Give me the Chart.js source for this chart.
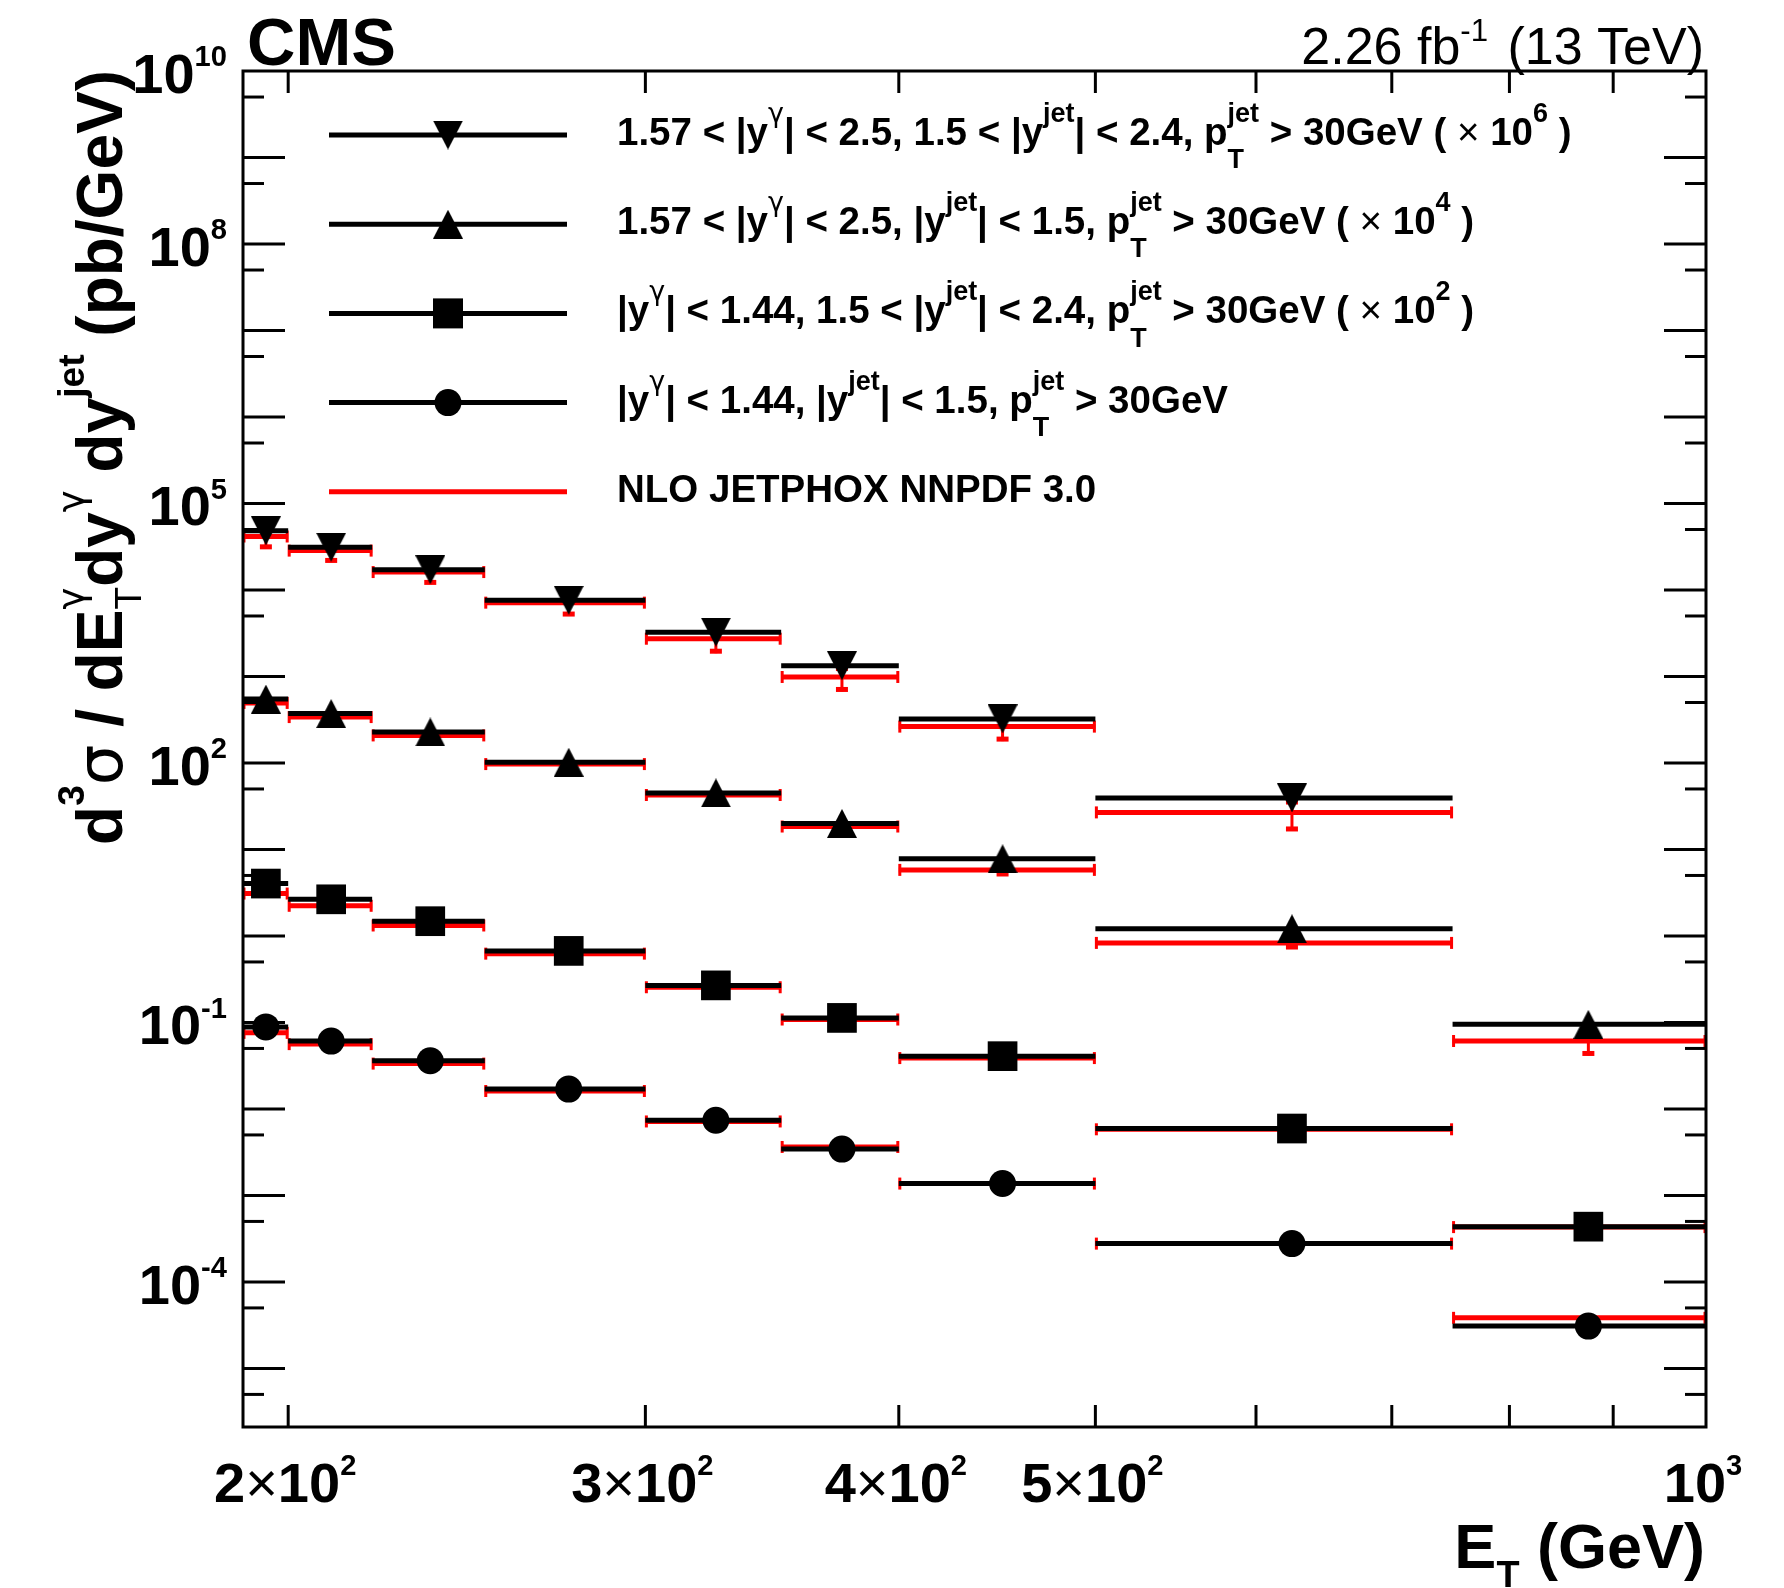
<!DOCTYPE html>
<html lang="en">
<head>
<meta charset="UTF-8">
<title>Isolated photon + jet cross section</title>
<style>
  html, body { margin: 0; padding: 0; background: #fff; }
  #wrap { width: 1784px; height: 1588px; }
</style>
</head>
<body>
<div id="wrap"><canvas id="xsec" width="1784" height="1588"></canvas></div>
<script src="https://cdn.jsdelivr.net/npm/chart.js"></script>
<script>
// E_T bins (GeV)
const binLo  = [190, 200, 220, 250, 300, 350, 400, 500, 750];
const binHi  = [200, 220, 250, 300, 350, 400, 500, 750, 1000];
const binMid = [195, 210, 235, 275, 325, 375, 450, 625, 875];

// measured values, already multiplied by the legend factor (pb/GeV)
const fwdFwdData = [48300, 31200, 17100, 7590, 3250, 1330, 323, 39.4, null];   // x 10^6
const fwdCenData = [547, 372, 228, 102, 45, 20, 7.8, 1.21, 0.095];             // x 10^4
const cenFwdData = [4.03, 2.65, 1.48, 0.671, 0.268, 0.1127, 0.0407, 0.00593, 0.000435]; // x 10^2
const cenCenData = [0.0887, 0.0608, 0.0361, 0.01694, 0.00738, 0.00343, 0.00137, 0.000277, 0.0000308];

// NLO JETPHOX predictions, same factors
const fwdFwdTheory = [41500, 28500, 16100, 7130, 2730, 986, 263, 26.8, null];
const fwdCenTheory = [494, 339, 208, 97, 42.6, 18.4, 5.8, 0.83, 0.061];
const cenFwdTheory = [3.09, 2.23, 1.32, 0.624, 0.255, 0.108, 0.0387, 0.00581, 0.00043];
const cenCenTheory = [0.0757, 0.0561, 0.0334, 0.0161, 0.00716, 0.00363, 0.00137, 0.000277, 0.0000384];

// relative theory uncertainty
const fwdFwdTheoryErr = [0.28, 0.27, 0.28, 0.30, 0.32, 0.32, 0.32, 0.39, 0];
const fwdCenTheoryErr = [0.10, 0.10, 0.10, 0.10, 0.10, 0.12, 0.15, 0.15, 0.32];
const cenFwdTheoryErr = [0.08, 0.08, 0.08, 0.08, 0.08, 0.08, 0.08, 0.08, 0.08];
const cenCenTheoryErr = [0.08, 0.08, 0.08, 0.08, 0.08, 0.08, 0.08, 0.08, 0.08];

// axis ticks
const xTickValues = [200, 300, 400, 500, 600, 700, 800, 900];
const xLabelValues = [200, 300, 400, 500, 1000];
const xLabelMant = ['2', '3', '4', '5', ''];
const xLabelExp = ['2', '2', '2', '2', '3'];
const yLabelExp = [10, 8, 5, 2, -1, -4];

const SANS = '"Liberation Sans", Arial, Helvetica, sans-serif';
function fnt(size, weight, family) { return (weight || 'bold') + ' ' + size + 'px ' + (family || SANS); }

// text with super/subscripts: parts are strings, {t, w, f} or {sup, sub}
function layoutRich(ctx, parts, size, opt) {
  const items = [];
  let w = 0;
  parts.forEach(p => {
    if (typeof p === 'string' || p.t !== undefined) {
      const t = typeof p === 'string' ? p : p.t;
      const f = fnt(size, p.w || opt.weight, p.f);
      ctx.font = f;
      items.push({ x: w, dy: 0, text: t, font: f });
      w += ctx.measureText(t).width;
    } else {
      let adv = 0;
      if (p.sup) {
        const f = fnt(size * opt.scale, p.w || opt.weight, p.supFont);
        ctx.font = f;
        items.push({ x: w, dy: -size * opt.up, text: p.sup, font: f });
        adv = Math.max(adv, ctx.measureText(p.sup).width);
      }
      if (p.sub) {
        const f = fnt(size * opt.scale, p.w || opt.weight);
        ctx.font = f;
        items.push({ x: w, dy: size * opt.down, text: p.sub, font: f });
        adv = Math.max(adv, ctx.measureText(p.sub).width);
      }
      w += adv + (opt.gap || 0);
    }
  });
  return { items, width: w };
}

function drawRich(ctx, parts, x, y, size, opt) {
  const lay = layoutRich(ctx, parts, size, opt);
  let x0 = x;
  if (opt.align === 'right') x0 = x - lay.width;
  if (opt.align === 'center') x0 = x - lay.width / 2;
  ctx.textAlign = 'left';
  ctx.textBaseline = 'alphabetic';
  ctx.fillStyle = '#000';
  lay.items.forEach(it => {
    ctx.font = it.font;
    ctx.fillText(it.text, x0 + it.x, y + it.dy);
  });
}

// ROOT style triangles, centred on their bounding box
function triangleMarker(down) {
  const c = document.createElement('canvas');
  c.width = 30; c.height = 29;
  const g = c.getContext('2d');
  g.fillStyle = '#000';
  g.beginPath();
  if (down) { g.moveTo(0, 0); g.lineTo(30, 0); g.lineTo(15, 29); }
  else { g.moveTo(15, 0); g.lineTo(30, 29); g.lineTo(0, 29); }
  g.closePath();
  g.fill();
  return c;
}
const triDown = triangleMarker(true);
const triUp = triangleMarker(false);

function pts(values) {
  return values.map((v, i) => ({ x: binMid[i], y: v, i: i })).filter(p => p.y != null);
}

function theorySet(values, err) {
  return { data: pts(values), relErr: err, lineColor: '#ff0000', caps: true,
           pointRadius: 0, showLine: false };
}
function dataSet(values, style, radius) {
  return { data: pts(values), lineColor: '#000000', pointStyle: style, pointRadius: radius,
           backgroundColor: '#000', borderColor: '#000', pointBorderWidth: 0, showLine: false };
}

const datasets = [
  theorySet(fwdFwdTheory, fwdFwdTheoryErr),
  theorySet(fwdCenTheory, fwdCenTheoryErr),
  theorySet(cenFwdTheory, cenFwdTheoryErr),
  theorySet(cenCenTheory, cenCenTheoryErr),
  dataSet(fwdFwdData, triDown, 15),
  dataSet(fwdCenData, triUp, 15),
  dataSet(cenFwdData, 'rect', 21),
  dataSet(cenCenData, 'circle', 13.5)
];

// horizontal bin bars and vertical error bars
const binBars = {
  id: 'binBars',
  beforeDatasetsDraw(chart) {
    const { ctx, scales: { x, y } } = chart;
    ctx.save();
    ctx.lineWidth = 5;
    ctx.lineCap = 'butt';
    const seg = (x1, y1, x2, y2) => { ctx.beginPath(); ctx.moveTo(x1, y1); ctx.lineTo(x2, y2); ctx.stroke(); };
    chart.data.datasets.forEach(ds => {
      ctx.strokeStyle = ds.lineColor;
      ds.data.forEach(p => {
        const yy = y.getPixelForValue(p.y);
        const xl = x.getPixelForValue(binLo[p.i]);
        const xr = x.getPixelForValue(binHi[p.i]);
        seg(xl, yy, xr, yy);
        if (ds.caps) {
          ctx.lineWidth = 3;
          seg(xl + 1, yy - 6, xl + 1, yy + 6);
          seg(xr - 1, yy - 6, xr - 1, yy + 6);
          ctx.lineWidth = 5;
        }
        if (ds.relErr && ds.relErr[p.i] > 0) {
          const xc = x.getPixelForValue(p.x);
          const lo = y.getPixelForValue(p.y * (1 - ds.relErr[p.i]));
          const hi = y.getPixelForValue(p.y * (1 + ds.relErr[p.i]));
          ctx.lineWidth = 3;
          seg(xc, lo, xc, hi);
          ctx.lineWidth = 5;
          seg(xc - 6, lo - 2, xc + 6, lo - 2);
          seg(xc - 6, hi + 2, xc + 6, hi + 2);
        }
      });
    });
    ctx.restore();
  }
};

const GAMMA = { sup: '\u03b3', supFont: '"DejaVu Sans", sans-serif', w: 'normal' };

// ROOT-like frame, inward ticks, labels, titles and legend
const frame = {
  id: 'frame',
  afterDraw(chart) {
    const { ctx, chartArea: a, scales: { x, y } } = chart;
    ctx.save();
    ctx.strokeStyle = '#000';
    ctx.lineWidth = 3;
    ctx.strokeRect(a.left, a.top, a.right - a.left, a.bottom - a.top);
    const seg = (x1, y1, x2, y2) => { ctx.beginPath(); ctx.moveTo(x1, y1); ctx.lineTo(x2, y2); ctx.stroke(); };

    // y ticks: long at each decade, short at 5 x 10^n
    ctx.lineWidth = 3;
    for (let e = -6; e <= 10; e++) {
      [[Math.pow(10, e), 42], [5 * Math.pow(10, e), 21]].forEach(([v, len]) => {
        if (v <= y.min || v >= y.max) return;
        const py = y.getPixelForValue(v);
        seg(a.left, py, a.left + len, py);
        seg(a.right, py, a.right - len, py);
      });
    }
    xTickValues.forEach(v => {
      const px = x.getPixelForValue(v);
      seg(px, a.bottom, px, a.bottom - 22);
      seg(px, a.top, px, a.top + 22);
    });

    // tick labels
    const tickOpt = { weight: 'bold', scale: 0.52, up: 0.48, down: 0 };
    yLabelExp.forEach(e => {
      const py = y.getPixelForValue(Math.pow(10, e));
      drawRich(ctx, ['10', { sup: String(e) }], 227, py + 22, 56, Object.assign({ align: 'right' }, tickOpt));
    });
    xLabelValues.forEach((v, i) => {
      const px = x.getPixelForValue(v);
      const parts = xLabelMant[i] ? [xLabelMant[i], { t: '\u00d7', w: 'normal' }, '10', { sup: xLabelExp[i] }]
                                  : ['10', { sup: xLabelExp[i] }];
      drawRich(ctx, parts, px - 3, 1502, 56, Object.assign({ align: 'center' }, tickOpt));
    });

    // axis titles
    drawRich(ctx, ['E', { sub: 'T' }, ' (GeV)'], 1705, 1568, 63,
      { weight: 'bold', scale: 0.6, up: 0.5, down: 0.3, align: 'right' });
    ctx.save();
    ctx.translate(122, 70);
    ctx.rotate(-Math.PI / 2);
    drawRich(ctx, ['d', { sup: '3' }, { t: '\u03c3', w: 'normal', f: '"DejaVu Sans", sans-serif' }, ' / dE',
      { sup: '\u03b3', supFont: '"DejaVu Sans", sans-serif', w: 'normal', sub: 'T' },
      'dy', GAMMA, ' dy', { sup: 'jet' }, ' (pb/GeV)'], 0, 0, 64,
      { weight: 'bold', scale: 0.58, up: 0.6, down: 0.3, align: 'right' });
    ctx.restore();

    // header
    ctx.font = fnt(67, 'bold');
    ctx.fillStyle = '#000';
    ctx.textAlign = 'left';
    ctx.fillText('CMS', 247, 65);
    drawRich(ctx, ['2.26 fb', { sup: '-1' }, ' (13 TeV)'], 1704, 64, 52,
      { weight: 'normal', scale: 0.6, up: 0.45, down: 0, align: 'right', gap: 5 });

    // legend
    const legOpt = { weight: 'bold', scale: 0.7, up: 0.6, down: 0.6 };
    const times = { t: '\u00d7', w: 'normal' };
    const entries = [
      { marker: triDown, text: ['1.57 < |y', GAMMA, '| < 2.5, 1.5 < |y', { sup: 'jet' }, '| < 2.4, p',
        { sup: 'jet', sub: 'T' }, ' > 30GeV ( ', times, ' 10', { sup: '6' }, ' )'] },
      { marker: triUp, text: ['1.57 < |y', GAMMA, '| < 2.5, |y', { sup: 'jet' }, '| < 1.5, p',
        { sup: 'jet', sub: 'T' }, ' > 30GeV ( ', times, ' 10', { sup: '4' }, ' )'] },
      { marker: 'rect', text: ['|y', GAMMA, '| < 1.44, 1.5 < |y', { sup: 'jet' }, '| < 2.4, p',
        { sup: 'jet', sub: 'T' }, ' > 30GeV ( ', times, ' 10', { sup: '2' }, ' )'] },
      { marker: 'circle', text: ['|y', GAMMA, '| < 1.44, |y', { sup: 'jet' }, '| < 1.5, p',
        { sup: 'jet', sub: 'T' }, ' > 30GeV'] },
      { marker: null, red: true, text: ['NLO JETPHOX NNPDF 3.0'] }
    ];
    entries.forEach((en, k) => {
      const ly = 135 + k * 89.2;
      ctx.strokeStyle = en.red ? '#ff0000' : '#000';
      ctx.lineWidth = 5;
      seg(329, ly, 567, ly);
      ctx.fillStyle = '#000';
      if (en.marker === 'rect') ctx.fillRect(448 - 15, ly - 15, 30, 30);
      else if (en.marker === 'circle') { ctx.beginPath(); ctx.arc(448, ly, 13.5, 0, Math.PI * 2); ctx.fill(); }
      else if (en.marker) ctx.drawImage(en.marker, 448 - 15, ly - 14.5);
      drawRich(ctx, en.text, 617, ly + 10, 38.5, legOpt);
    });
    ctx.restore();
  }
};

new Chart(document.getElementById('xsec').getContext('2d'), {
  type: 'scatter',
  data: { datasets: datasets },
  options: {
    responsive: false,
    animation: false,
    events: [],
    layout: { padding: { left: 243, right: 78, top: 71, bottom: 161 } },
    plugins: { legend: { display: false }, tooltip: { enabled: false } },
    scales: {
      x: { type: 'logarithmic', min: 190, max: 1000, display: false },
      y: { type: 'logarithmic', min: 2.1e-6, max: 1e10, display: false }
    }
  },
  plugins: [binBars, frame]
});
</script>
</body>
</html>
